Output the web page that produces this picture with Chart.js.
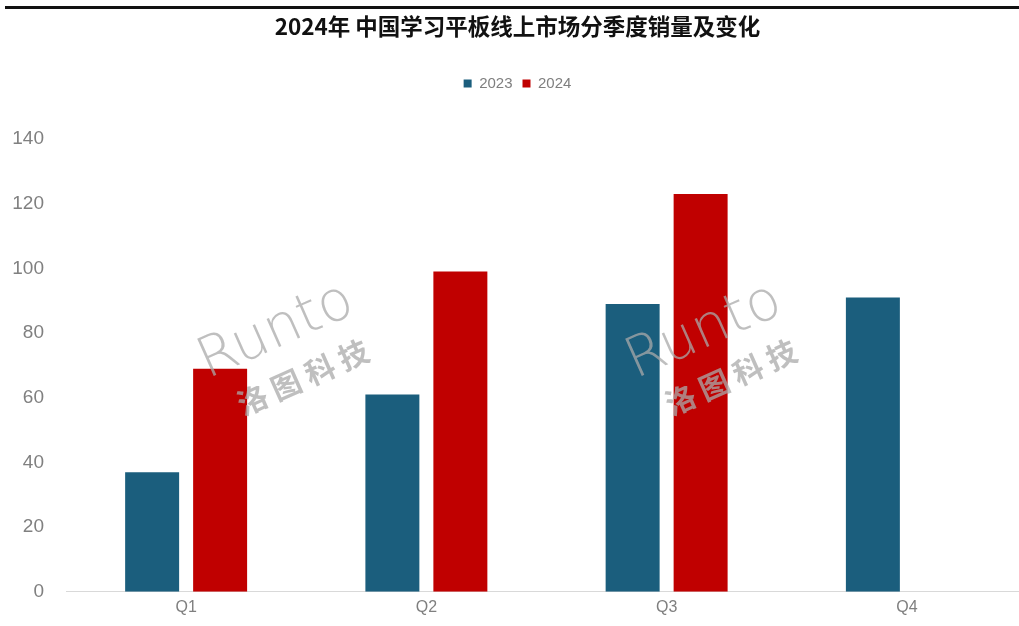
<!DOCTYPE html>
<html>
<head>
<meta charset="utf-8">
<script src="https://cdn.jsdelivr.net/npm/chart.js@4"></script>
<style>
    html, body { margin: 0; padding: 0; background: #ffffff; overflow: hidden; }
    #wrap { width: 1027px; height: 626px; position: relative; }
</style>
</head>
<body>
<div id="wrap"><canvas id="salesChart"></canvas></div>
<script>
// Quarterly online sales of learning tablets in China
const quarters = ['Q1', 'Q2', 'Q3', 'Q4'];
const sales2023 = [37, 61, 89, 91];
const sales2024 = [69, 99, 123, null];
const yTicks = [0, 20, 40, 60, 80, 100, 120, 140];

const COLOR_2023 = '#1b5e7d';
const COLOR_2024 = '#c00000';

// Top rule line and the brand watermark
const decorPlugin = {
    id: 'decor',
    beforeDraw(chart) {
        const ctx = chart.ctx;
        ctx.save();
        ctx.fillStyle = '#111111';
        ctx.fillRect(5, 6, chart.width - 5, 3);
        ctx.restore();
    },
    afterDatasetsDraw(chart) {
        const ctx = chart.ctx;
        const marks = [[282, 345], [710, 345]];
        marks.forEach(([cx, cy]) => {
            ctx.save();
            ctx.translate(cx, cy);
            ctx.rotate(-24 * Math.PI / 180);
            ctx.fillStyle = 'rgba(170, 170, 170, 0.75)';
            ctx.textAlign = 'center';
            ctx.textBaseline = 'middle';
            ctx.font = '300 56px "DejaVu Sans", sans-serif';
            ctx.fillText('Runto', 0, -14);
            ctx.font = 'bold 30px "Noto Sans CJK SC", sans-serif';
            ctx.fillText('洛 图 科 技', 6, 38);
            ctx.restore();
        });
    }
};

// Extra room between the legend and the plot area
const legendGapPlugin = {
    id: 'legendGap',
    beforeInit(chart) {
        const fit = chart.legend.fit;
        chart.legend.fit = function () {
            fit.call(this);
            this.height += 38;
        };
    }
};

new Chart(document.getElementById('salesChart'), {
    type: 'bar',
    data: {
        labels: quarters,
        datasets: [
            { label: '2023', data: sales2023, backgroundColor: COLOR_2023 },
            { label: '2024', data: sales2024, backgroundColor: COLOR_2024 }
        ]
    },
    options: {
        responsive: true,
        maintainAspectRatio: false,
        animation: false,
        categoryPercentage: 0.566,
        barPercentage: 0.794,
        layout: { padding: { left: 8, right: 0, top: 0, bottom: 3 } },
        plugins: {
            title: {
                display: true,
                text: '2024年 中国学习平板线上市场分季度销量及变化',
                color: '#111111',
                font: { family: '"Noto Sans CJK SC", sans-serif', size: 22.5, weight: 'bold' },
                padding: { top: 13, bottom: 26 }
            },
            legend: {
                display: true,
                labels: {
                    color: '#7f7f7f',
                    boxWidth: 8,
                    boxHeight: 8,
                    padding: 10,
                    font: { family: '"Liberation Sans", Arial, sans-serif', size: 15 }
                }
            },
            tooltip: { enabled: false }
        },
        scales: {
            x: {
                grid: { display: false, drawTicks: false },
                border: { display: true, color: '#d9d9d9', width: 1 },
                ticks: {
                    color: '#7f7f7f',
                    padding: 6,
                    font: { family: '"Liberation Sans Narrow", "Liberation Sans", sans-serif', size: 16 }
                }
            },
            y: {
                min: 0,
                max: 140,
                afterBuildTicks: (axis) => { axis.ticks = yTicks.map(v => ({ value: v })); },
                afterFit: (axis) => { axis.width = 58; },
                grid: { display: false, drawTicks: false },
                border: { display: false },
                ticks: {
                    color: '#808080',
                    padding: 22,
                    font: { family: '"Liberation Sans", Arial, sans-serif', size: 19 }
                }
            }
        }
    },
    plugins: [decorPlugin, legendGapPlugin]
});
</script>
</body>
</html>
